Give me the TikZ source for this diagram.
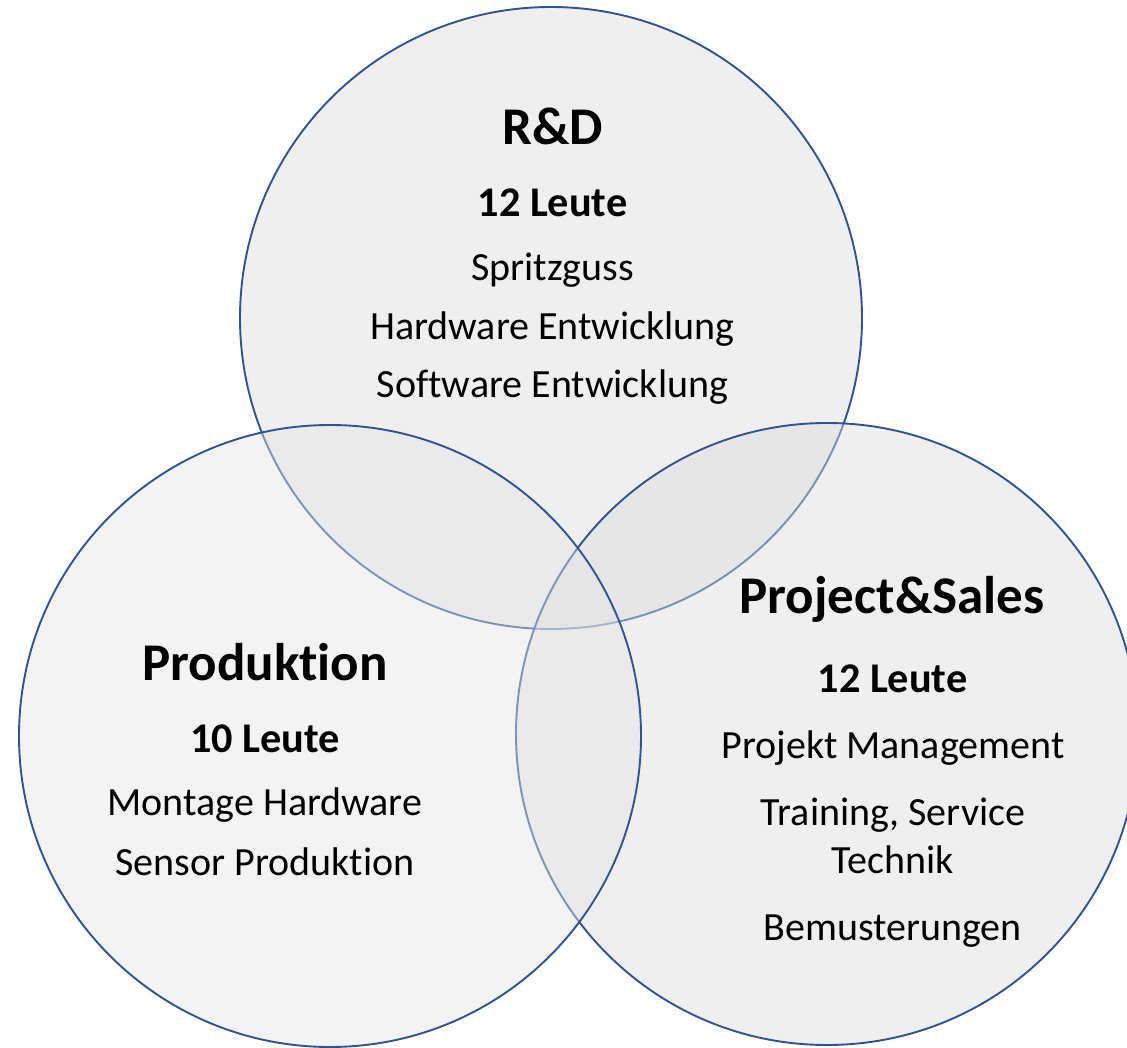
\documentclass[tikz,border=0pt]{standalone}
\usepackage{fontspec}
\setmainfont{Carlito}[Ligatures={NoCommon}]
\definecolor{edgeblue}{HTML}{2F5496}
\definecolor{fillrd}{RGB}{219,219,219}
\definecolor{fillps}{RGB}{219,219,219}
\definecolor{fillpr}{RGB}{228,228,228}
\tikzset{
  venn/.style={circle, minimum size=622pt, inner sep=0pt, draw=edgeblue, line width=1.9pt, fill opacity=0.44},
  title/.style={anchor=base, inner sep=0pt, font=\fontsize{53}{60}\selectfont\bfseries},
  count/.style={anchor=base, inner sep=0pt, font=\fontsize{42.3}{48}\selectfont\bfseries},
  item/.style={anchor=base, inner sep=0pt, font=\fontsize{40}{48}\selectfont},
}
\begin{document}
\begin{tikzpicture}[x=1pt,y=-1pt]
\useasboundingbox (0,0) rectangle (1127,1048);
\clip (0,0) rectangle (1127,1048);
\fill[white] (0,0) rectangle (1127,1048);
\node[venn, fill=fillrd] (rd) at (551,318) {};
\node[venn, fill=fillps] (ps) at (827,734) {};
\node[venn, fill=fillpr] (pr) at (330,736) {};
% R&D
\node[title] (rdT) at (552.5,145) {R\&D};
\node[count] (rdC) at (552.5,217) {12 Leute};
\node[item] (rd1) at (552.5,281) {Spritzguss};
\node[item] (rd2) at (552.5,340) {Hardware Entwicklung};
\node[item] (rd3) at (552.5,398) {Software Entwicklung};
% Produktion
\node[title] (prT) at (265,680) {Produktion};
\node[count] (prC) at (265,752) {10 Leute};
\node[item] (pr1) at (265,815) {Montage Hardware};
\node[item] (pr2) at (265,875) {Sensor Produktion};
% Project&Sales
\node[title] (psT) at (892,613) {Project\&Sales};
\node[count] (psC) at (892.5,692) {12 Leute};
\node[item] (ps1) at (893,758) {Projekt Management};
\node[item] (ps2) at (893,825) {Training, Service};
\node[item] (ps3) at (893,873) {Technik};
\node[item] (ps4) at (892.5,940) {Bemusterungen};
\end{tikzpicture}
\end{document}
